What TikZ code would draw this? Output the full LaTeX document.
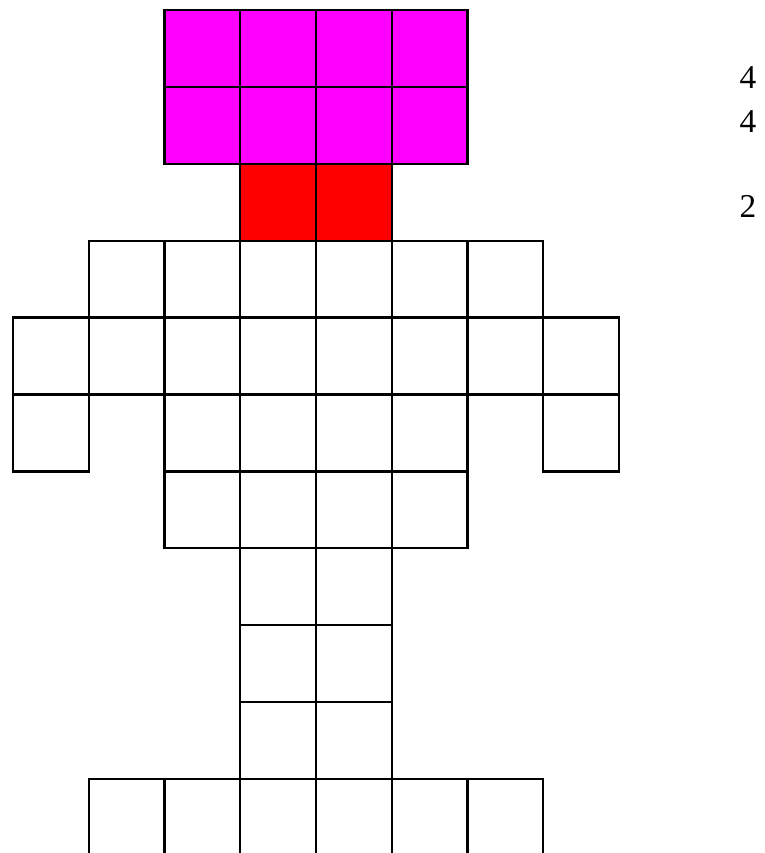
\documentclass[tikz,border=0pt]{standalone}
\usepackage{fontspec}
\setmainfont{Liberation Serif}
\definecolor{headmag}{RGB}{255,0,255}
\definecolor{neckred}{RGB}{255,0,0}
\begin{document}
\begin{tikzpicture}[x=0.75pt,y=-0.75pt,
  cell/.style={draw=black,line width=1.7pt,line join=miter},
  num/.style={font=\fontsize{25}{30}\selectfont,inner sep=0pt,anchor=center}]
\useasboundingbox (0,0) rectangle (764,853);
\begin{scope}
\clip (0,0) rectangle (764,853);
\foreach \i/\j/\c in {2/0/headmag,3/0/headmag,4/0/headmag,5/0/headmag,
                      2/1/headmag,3/1/headmag,4/1/headmag,5/1/headmag,
                      3/2/neckred,4/2/neckred,
                      1/3/white,2/3/white,3/3/white,4/3/white,5/3/white,6/3/white,
                      0/4/white,1/4/white,2/4/white,3/4/white,4/4/white,5/4/white,6/4/white,7/4/white,
                      0/5/white,2/5/white,3/5/white,4/5/white,5/5/white,7/5/white,
                      2/6/white,3/6/white,4/6/white,5/6/white,
                      3/7/white,4/7/white,3/8/white,4/8/white,3/9/white,4/9/white,
                      1/10/white,2/10/white,3/10/white,4/10/white,5/10/white,6/10/white}
  \filldraw[cell,fill=\c] ({13+75.75*\i},{10+76.9*\j}) rectangle ++(75.75,76.9);
\end{scope}
\node[num] (n1) at (748,77.5) {4};
\node[num] (n2) at (748,121.5) {4};
\node[num] (n3) at (748,206.5) {2};
\end{tikzpicture}
\end{document}
